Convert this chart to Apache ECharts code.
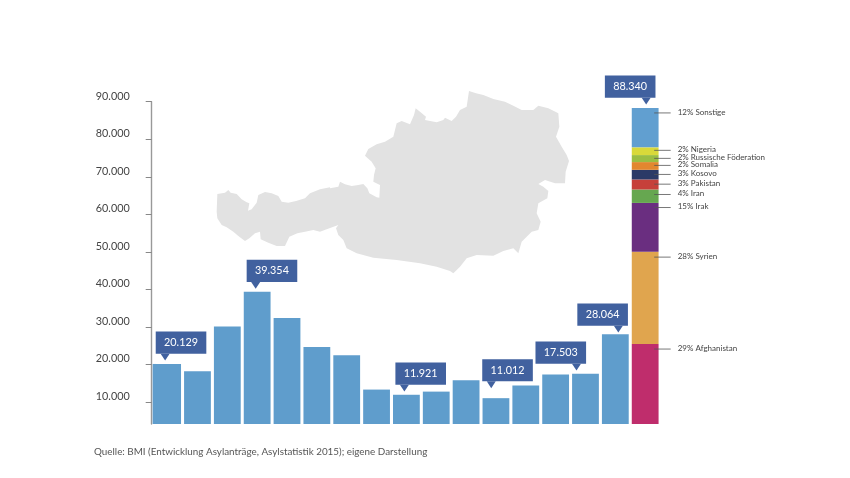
<!DOCTYPE html>
<html><head><meta charset="utf-8">
<style>html,body{margin:0;padding:0;background:#fff}#c{width:850px;height:478px}</style>
<script src="https://cdn.jsdelivr.net/npm/echarts@6/dist/echarts.min.js"></script>
</head><body><div id="c"></div>
<script>
const monthCategories = ['1','2','3','4','5','6','7','8','9','10','11','12','13','14','15','16','Gesamt'];
const monthValues = [20129,18200,30130,39354,32380,24620,22480,13300,11921,12760,15800,11012,14360,17300,17503,28064];
const stackNames = ['29% Afghanistan','28% Syrien','15% Irak','4% Iran','3% Pakistan','3% Kosovo','2% Somalia','2% Russische Föderation','2% Nigeria','12% Sonstige'];
const stackValues = [25430,24600,13000,3580,2670,2570,2060,1870,2060,10500];
const stackColors = ['#BF2D6C','#E0A54E','#6A2E80','#66A750','#C6403A','#2B3A67','#E2872F','#9BBE43','#D9D93A','#619FD0'];
const tickValues = [10000,20000,30000,40000,50000,60000,70000,80000,90000];
const calloutBars = [0,3,8,11,14,15,16];
const calloutTexts = ['20.129','39.354','11.921','11.012','17.503','28.064','88.340'];
const calloutTotals = [20129,39354,11921,11012,17503,28064,88340];
const sourceText = 'Quelle: BMI (Entwicklung Asylanträge, Asylstatistik 2015); eigene Darstellung';

// layout-only offsets (px)
const tipDx = [-2.5,-1.5,-2,-4.7,-9,3,1];
const tipDy = [3.5,3,3.3,10,3.3,1.6,3.4];
const boxDx = [-9.4,-9,-9,-9,-41,-41,-41.3];
const leaderDy = [5,5.4,4.6,5,4.7,4.6,3.3,3.3,3,5];

// decorative silhouette, traced in three pieces: [originX, originY, x,y, ...] at 3x
const mapPieces = [
 [210,170, 22,72,45,68,55,60,62,68,80,72,95,88,110,97,118,100,114,122,125,118,140,98,145,75,165,66,185,70,205,78,215,95,235,98,258,93,285,85,300,70,330,58,360,52],
 [330,85, 0,310,25,305,30,290,45,298,65,303,85,300,100,297,112,310,118,325,140,337,148,338,150,300,130,290,132,270,137,250,125,230,105,212,115,192,140,178,165,170,190,155,200,115,215,108,240,118,252,90,257,70,270,80,288,95,285,105,320,112,340,105,345,98,365,108],
 [450,85, 18,95,30,75,50,65,57,18,78,25,100,30,130,42,165,50,190,62,215,75,250,75,265,62,295,70,325,85,328,125,318,155,335,185,350,210,357,228,347,260,345,295,315,295,285,285,265,297,280,305,295,318,292,340,265,355,260,385,272,410,265,435,245,440,215,470,205,505,190,490,160,498,130,512,80,510,50,520,30,545,10,565],
 [330,85, 360,558,320,545,270,535,200,525,130,518,80,505,50,490,40,465,25,450,18,430,25,420],
 [210,170, 350,178,330,185,310,180,285,185,262,190,238,200,225,228,200,228,175,218,152,208,150,185,135,190,118,205,105,213,85,198,70,185,50,172,35,165,22,145,20,125]
];
const mapPoints = [];
mapPieces.forEach(p=>{ for (let i = 2; i < p.length; i += 2) mapPoints.push([p[0] + p[i] / 3, p[1] + p[i + 1] / 3]); });

const FONT = 'Lato, "Open Sans", sans-serif';
const Y_MIN = 4130;
const chart = echarts.init(document.getElementById('c'), null, {renderer:'canvas'});

const series = [{
  type:'bar', name:'Monate', stack:'t', barWidth:26.8, data:monthValues.concat(['-']),
  itemStyle:{color:'#5F9DCC'}, silent:true
}];
let running = 0; const tops = [];
stackNames.forEach((n,i)=>{
  running += stackValues[i]; tops.push(running);
  const d = monthCategories.map(()=> '-'); d[16] = stackValues[i];
  series.push({type:'bar',name:n,stack:'t',barWidth:26.8,data:d,itemStyle:{color:stackColors[i]},silent:true});
});
// left edge of the first bar reaches the axis
series.push({
  type:'custom', clip:false, silent:true, data:[[0,monthValues[0]]], z:3,
  renderItem(p,api){
    const a = api.coord([0,api.value(1)]), b = api.coord([0,Y_MIN]);
    return {type:'rect',shape:{x:a[0]-15,y:a[1],width:4,height:b[1]-a[1]},style:{fill:'#5F9DCC'}};
  }
});
// callouts
series.push({
  type:'custom', clip:false, silent:true, z:5,
  data:calloutBars.map((c,i)=>[c,calloutTotals[i],i]),
  encode:{x:0,y:1},
  renderItem(p,api){
    const i = api.value(2), pt = api.coord([api.value(0),api.value(1)]);
    const tx = pt[0]+tipDx[i], ty = pt[1]-tipDy[i];
    const bx = tx+boxDx[i], by = ty-29, bw = 50.6, bh = 22.2;
    return {type:'group',children:[
      {type:'rect',shape:{x:bx,y:by,width:bw,height:bh},style:{fill:'#41619F'}},
      {type:'polygon',shape:{points:[[tx-4.5,by+bh],[tx+4.5,by+bh],[tx,ty]]},style:{fill:'#41619F'}},
      {type:'text',style:{text:calloutTexts[i],x:bx+bw/2,y:by+bh/2,align:'center',verticalAlign:'middle',fill:'#fff',font:'10.8px '+FONT}}
    ]};
  }
});
// leader lines and labels
series.push({
  type:'custom', clip:false, silent:true, z:6,
  data:stackNames.map((n,i)=>[16,tops[i],i]),
  encode:{x:0,y:1},
  renderItem(p,api){
    const i = api.value(2), pt = api.coord([16,api.value(1)]);
    const y = pt[1]+leaderDy[i], x = pt[0]+9;
    return {type:'group',children:[
      {type:'line',shape:{x1:x,y1:y,x2:x+16.5,y2:y},style:{stroke:'#555',lineWidth:0.8}},
      {type:'text',style:{text:stackNames[i],x:x+23.5,y:y-1,align:'left',verticalAlign:'middle',fill:'#444',font:'8px '+FONT}}
    ]};
  }
});

chart.setOption({
  animation:false,
  backgroundColor:'#fff',
  grid:{left:152.7,right:189.9,top:101.7,bottom:54,containLabel:false},
  xAxis:{type:'category',data:monthCategories,show:false},
  yAxis:{type:'value',min:Y_MIN,max:90000,offset:1,splitLine:{show:false},
    axisLine:{show:true,lineStyle:{color:'#999',width:1.4}},
    axisTick:{show:true,length:6,lineStyle:{color:'#888',width:1},customValues:tickValues},
    axisLabel:{margin:22,color:'#444',fontFamily:FONT,fontSize:10.8,verticalAlign:'bottom',
      customValues:tickValues,formatter:v=>String(v/1000)+'.000'}
  },
  graphic:[
    {type:'polygon',z:-1,silent:true,shape:{points:mapPoints},style:{fill:'#E2E2E2'}},
    {type:'text',left:94,top:447,silent:true,style:{text:sourceText,fill:'#555',font:'9.85px '+FONT}}
  ],
  series
});
</script></body></html>
